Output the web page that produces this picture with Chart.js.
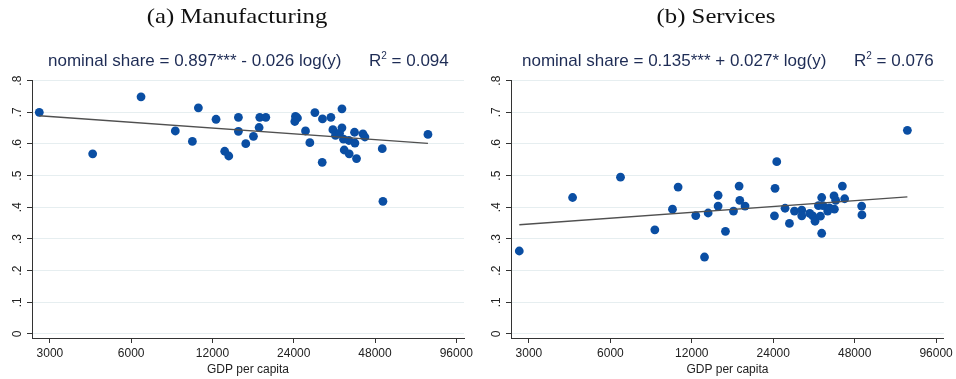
<!DOCTYPE html>
<html>
<head>
<meta charset="utf-8">
<script src="https://cdn.jsdelivr.net/npm/chart.js@4.4.0/dist/chart.umd.min.js"></script>
<style>
  html, body { margin:0; padding:0; background:#fff; }
  body { width:956px; height:379px; position:relative; overflow:hidden; }
  .panel { position:absolute; top:0; width:478px; height:379px; }
  .t { position:absolute; white-space:nowrap; }
  .title { font-family:"Liberation Serif","DejaVu Serif",serif; font-size:21.5px; color:#111; line-height:24px; transform:translateX(-50%) scaleX(1.15); }
  .eq { font-family:"Liberation Sans",Arial,sans-serif; font-size:17px; color:#1e2c55; line-height:20px; }
  .eq sup { font-size:10px; vertical-align:0; position:relative; top:-7px; }
</style>
</head>
<body>
<div class="panel" style="left:0"><canvas id="c1" width="478" height="379"></canvas></div>
<div class="panel" style="left:478px"><canvas id="c2" width="478" height="379"></canvas></div>

<div class="t title" style="left:237px; top:4px;">(a) Manufacturing</div>
<div class="t title" style="left:716px; top:4px;">(b) Services</div>
<div class="t eq" style="left:48px; top:51px;">nominal share = 0.897*** - 0.026 log(y)</div>
<div class="t eq" style="left:369px; top:51px;">R<sup>2</sup> = 0.094</div>
<div class="t eq" style="left:522px; top:51px;">nominal share = 0.135*** + 0.027* log(y)</div>
<div class="t eq" style="left:854px; top:51px;">R<sup>2</sup> = 0.076</div>

<script>
// ---- data ----
const xTicks = [3000, 6000, 12000, 24000, 48000, 96000];
const xTickLabels = ['3000', '6000', '12000', '24000', '48000', '96000'];
const yTicks = [0, 0.1, 0.2, 0.3, 0.4, 0.5, 0.6, 0.7, 0.8];
const yTickLabels = ['0', '.1', '.2', '.3', '.4', '.5', '.6', '.7', '.8'];

const mfgGdp = [2740, 4320, 6525, 8740, 10110, 10640, 12370, 13320, 13790, 14970, 14970, 15940, 17020, 17860, 17960, 18910, 24220, 24350, 24770, 26530, 27530, 28740, 30590, 30660, 32940, 33500, 34270, 35460, 36200, 36200, 36680, 36900, 38410, 38510, 40300, 40430, 40990, 43290, 44030, 51050, 51340, 75380];
const mfgShare = [0.700, 0.569, 0.749, 0.641, 0.608, 0.714, 0.678, 0.577, 0.562, 0.684, 0.640, 0.601, 0.624, 0.652, 0.684, 0.684, 0.671, 0.687, 0.682, 0.641, 0.604, 0.699, 0.542, 0.679, 0.684, 0.645, 0.627, 0.634, 0.711, 0.651, 0.615, 0.581, 0.611, 0.569, 0.637, 0.603, 0.554, 0.632, 0.622, 0.585, 0.419, 0.630];
const mfgFit = [0.689, 0.602];   // fitted line at min / max GDP

const svcGdp = [2763, 4350, 6540, 8760, 10180, 10680, 12410, 13370, 13790, 15010, 15010, 15980, 17110, 17950, 18050, 18880, 24250, 24370, 24730, 26540, 27550, 28750, 30590, 30590, 32740, 33590, 34250, 35260, 35860, 36250, 36250, 36660, 38150, 38710, 40260, 40390, 40840, 43230, 44080, 50940, 51060, 75180];
const svcShare = [0.262, 0.431, 0.495, 0.329, 0.394, 0.464, 0.374, 0.243, 0.382, 0.438, 0.404, 0.324, 0.388, 0.467, 0.422, 0.404, 0.373, 0.460, 0.544, 0.397, 0.349, 0.388, 0.391, 0.373, 0.381, 0.373, 0.356, 0.405, 0.372, 0.431, 0.318, 0.405, 0.388, 0.398, 0.436, 0.394, 0.422, 0.467, 0.427, 0.404, 0.376, 0.643];
const svcFit = [0.345, 0.433];

// ---- chart building ----
function makeChart(id, gdp, share, fit, geom) {
  const pts = gdp.map((g, i) => ({x: g, y: share[i]}));
  const gMin = Math.min(...gdp), gMax = Math.max(...gdp);
  new Chart(document.getElementById(id), {
    type: 'scatter',
    data: {
      datasets: [
        {
          data: [{x: gMin, y: fit[0]}, {x: gMax, y: fit[1]}],
          showLine: true, borderColor: '#505050', borderWidth: 1.4,
          pointRadius: 0, pointHoverRadius: 0, order: 0
        },
        {
          data: pts, pointRadius: 4.4, pointHoverRadius: 4.4,
          backgroundColor: '#0a4ea3', borderWidth: 0, order: 1
        }
      ]
    },
    options: {
      responsive: false, animation: false, events: [],
      layout: { padding: { left: 0, right: geom.right, top: 80, bottom: 0 } },
      plugins: { legend: { display: false }, tooltip: { enabled: false } },
      scales: {
        x: {
          type: 'logarithmic', min: 2575, max: 102500,
          afterBuildTicks: s => { s.ticks = xTicks.map(v => ({value: v})); },
          afterFit: s => { s.height = 41; },
          ticks: {
            autoSkip: false, maxRotation: 0, minRotation: 0, padding: 3,
            color: '#222', font: { family: 'Liberation Sans', size: 12 },
            callback: (v, i) => xTickLabels[i]
          },
          grid: { drawOnChartArea: false, drawTicks: true, tickLength: 5, tickColor: '#333', tickWidth: 1 },
          border: { color: '#333', width: 1 },
          title: { display: true, text: 'GDP per capita', color: '#222',
                   font: { family: 'Liberation Sans', size: 12 }, padding: { top: 0, bottom: 2 } }
        },
        y: {
          type: 'linear', min: -0.0127, max: 0.802,
          afterBuildTicks: s => { s.ticks = yTicks.map(v => ({value: v})); },
          afterFit: s => { s.width = geom.left; },
          ticks: {
            autoSkip: false, minRotation: 90, maxRotation: 90, crossAlign: 'center', padding: 4,
            color: '#222', font: { family: 'Liberation Sans', size: 12 },
            callback: (v, i) => yTickLabels[i]
          },
          grid: { color: '#e6eef0', lineWidth: 1, tickLength: 5, tickColor: '#333', tickWidth: 1 },
          border: { color: '#333', width: 1 }
        }
      }
    }
  });
}

makeChart('c1', mfgGdp, mfgShare, mfgFit, {left: 32, right: 14});
makeChart('c2', svcGdp, svcShare, svcFit, {left: 33, right: 12});
</script>
</body>
</html>
